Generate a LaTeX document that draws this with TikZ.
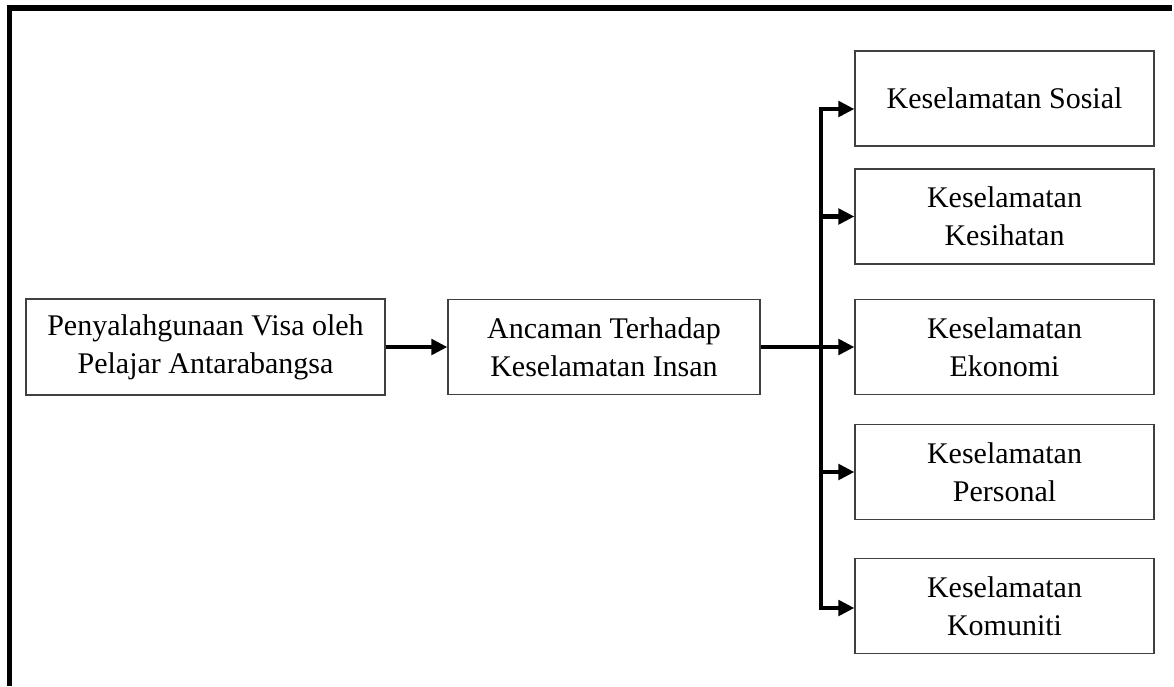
\documentclass[tikz,border=0pt]{standalone}
\usepackage{fontspec}
\setmainfont{Liberation Serif}
\usetikzlibrary{arrows.meta,calc}
\begin{document}
\begin{tikzpicture}[x=0.75pt,y=-0.75pt,
  box/.style={draw=black!75, line width=0.9pt, inner sep=0pt, align=center,
    font=\fontsize{22.5}{28.5}\selectfont},
  leftbox/.style={box, minimum width=359*0.75pt, minimum height=96*0.75pt},
  midbox/.style={box, minimum width=312*0.75pt, minimum height=95*0.75pt},
  rightbox/.style={box, minimum width=299*0.75pt, minimum height=95*0.75pt},
  conn/.style={line width=3.3pt, line join=miter},
  tip/.style={-{Triangle[length=12pt,width=11.5pt]}},
  frame/.style={line width=4.1pt, line join=miter}]
\useasboundingbox (0,0) rectangle (1174,686);
\fill[white] (0,0) rectangle (1174,686);
% frame
\draw[frame] (9.5,686) -- (9.5,8) -- (1172,8);
% nodes
\node[leftbox] (b1) at (205.5,347) {Penyalahgunaan Visa oleh\\Pelajar Antarabangsa};
\node[midbox] (b2) at (604,347) {Ancaman Terhadap\\Keselamatan Insan};
\node[rightbox] (s1) at (1004.5,98.5) {Keselamatan Sosial};
\node[rightbox] (s2) at (1004.5,216.5) {Keselamatan\\Kesihatan};
\node[rightbox] (s3) at (1004.5,347) {Keselamatan\\Ekonomi};
\node[rightbox] (s4) at (1004.5,472) {Keselamatan\\Personal};
\node[rightbox] (s5) at (1004.5,606) {Keselamatan\\Komuniti};
% junction coordinates
\coordinate (jx) at (821,347);
\coordinate (t1) at ($(s1.west)+(0,10.5)$);
\coordinate (t5) at ($(s5.west)+(0,2)$);
\coordinate (jtop) at (jx |- t1);
\coordinate (jbot) at (jx |- t5);
% connectors
\draw[conn, tip] (b1.east) -- (b2.west);
\draw[conn, tip] (b2.east) -- (s3.west);
\draw[conn, {Triangle[length=12pt,width=11.5pt]}-{Triangle[length=12pt,width=11.5pt]}]
  (t1) -- (jtop) -- (jbot) -- (t5);
\draw[conn, tip] (jx |- s2.west) -- (s2.west);
\draw[conn, tip] (jx |- s4.west) -- (s4.west);
\end{tikzpicture}
\end{document}
